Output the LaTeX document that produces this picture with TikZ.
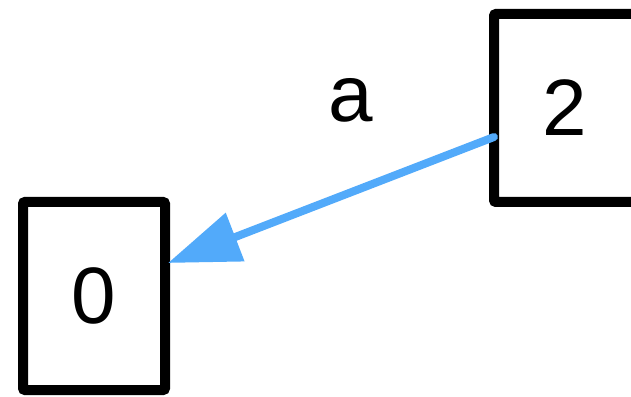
\documentclass[tikz,border=0pt]{standalone}
\usepackage{fontspec}
\setmainfont{Liberation Sans}
\usetikzlibrary{arrows.meta}

\definecolor{edgeblue}{RGB}{82,170,250}

\begin{document}
\begin{tikzpicture}[x=1pt,y=1pt,
        statebox/.style={draw, line width=10pt, rounded corners=2pt, outer sep=0pt,
            minimum width=142pt, minimum height=188pt, inner sep=0pt,
            font=\fontsize{80}{96}\selectfont},
        edgearrow/.style={edgeblue, line width=8pt, line cap=round,
            -{Triangle[length=72pt,width=50pt]}}]
        \useasboundingbox (0,0) rectangle (631,396);

        % States
        \node[statebox] (s0) at (94,100) {0};
        \node[statebox] (s2) at (565,288) {2};

        % Transition
        \draw[edgearrow] ([yshift=-29pt]s2.west) -- ([xshift=3pt,yshift=33pt]s0.east);
        \node[font=\fontsize{80}{96}\selectfont] (la) at (351,296) {a};
    \end{tikzpicture}
\end{document}
